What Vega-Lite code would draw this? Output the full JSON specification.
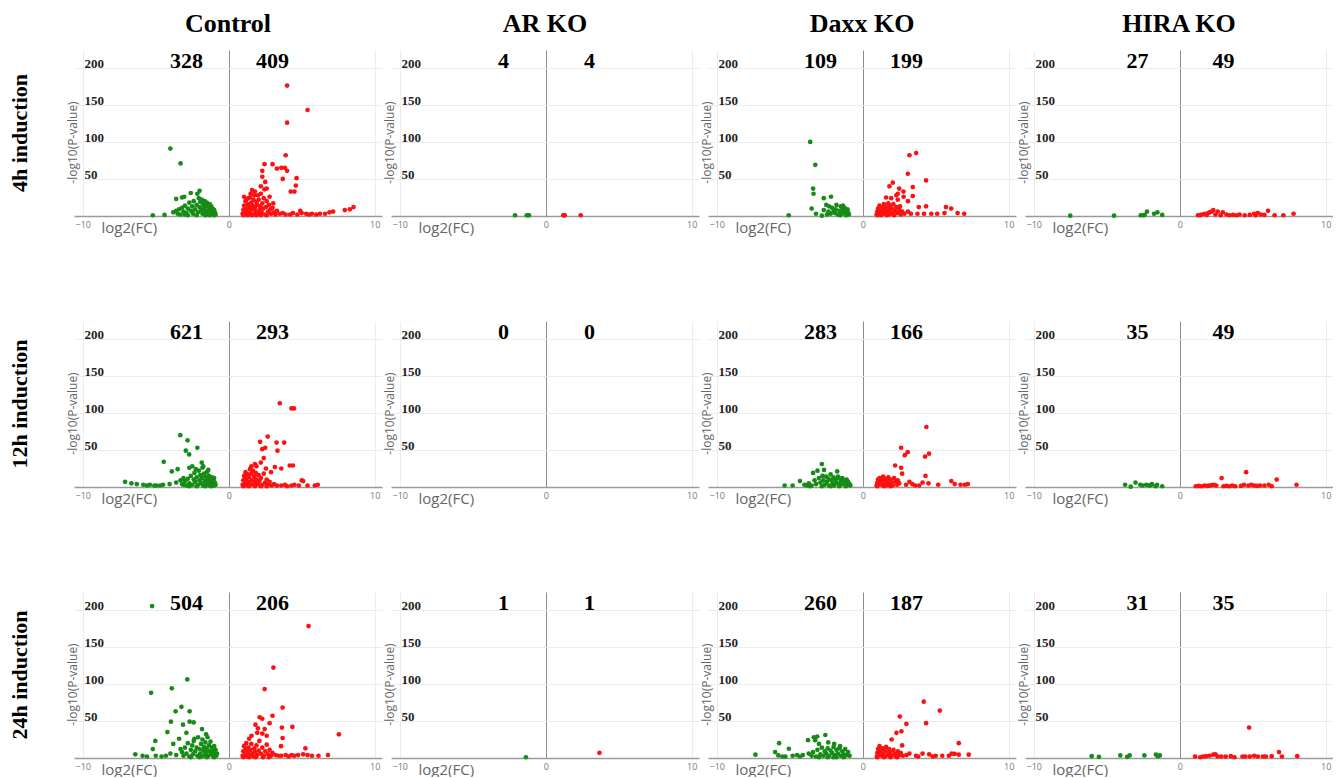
{
"$schema":"https://vega.github.io/schema/vega-lite/v6.json",
"padding":{"left":8,"top":11,"right":0,"bottom":0},
"background":"white",
"data":{"values":[
{"t":4,"g":"C","dn":328,"up":409},{"t":4,"g":"A","dn":4,"up":4},{"t":4,"g":"D","dn":109,"up":199},{"t":4,"g":"H","dn":27,"up":49},
{"t":12,"g":"C","dn":621,"up":293},{"t":12,"g":"A","dn":0,"up":0},{"t":12,"g":"D","dn":283,"up":166},{"t":12,"g":"H","dn":35,"up":49},
{"t":24,"g":"C","dn":504,"up":206},{"t":24,"g":"A","dn":1,"up":1},{"t":24,"g":"D","dn":260,"up":187},{"t":24,"g":"H","dn":31,"up":35},

{"t":4,"g":"C","x":-4.0,"y":91},{"t":4,"g":"C","x":-3.3,"y":71},{"t":4,"g":"C","x":-5.2,"y":1},{"t":4,"g":"C","x":-4.4,"y":1.5},{"t":4,"g":"C","x":-3.6,"y":23},{"t":4,"g":"C","x":-3.2,"y":25},{"t":4,"g":"C","x":-3.05,"y":26},{"t":4,"g":"C","x":-2.6,"y":31},{"t":4,"g":"C","x":-2.0,"y":34},{"t":4,"g":"C","x":-2.15,"y":30},
{"t":4,"g":"C","x":-3.8,"y":5},{"t":4,"g":"C","x":-3.6,"y":7},{"t":4,"g":"C","x":-3.5,"y":3},{"t":4,"g":"C","x":-3.4,"y":9},{"t":4,"g":"C","x":-3.3,"y":2},{"t":4,"g":"C","x":-3.2,"y":11},{"t":4,"g":"C","x":-3.1,"y":6},{"t":4,"g":"C","x":-3.0,"y":14},{"t":4,"g":"C","x":-2.9,"y":4},{"t":4,"g":"C","x":-2.8,"y":10},{"t":4,"g":"C","x":-2.7,"y":18},{"t":4,"g":"C","x":-2.6,"y":7},{"t":4,"g":"C","x":-2.5,"y":13},{"t":4,"g":"C","x":-2.45,"y":3},{"t":4,"g":"C","x":-2.4,"y":20},{"t":4,"g":"C","x":-2.3,"y":9},{"t":4,"g":"C","x":-2.2,"y":15},{"t":4,"g":"C","x":-2.1,"y":5},{"t":4,"g":"C","x":-2.05,"y":24},{"t":4,"g":"C","x":-2.0,"y":12},{"t":4,"g":"C","x":-1.95,"y":19},{"t":4,"g":"C","x":-1.9,"y":8},{"t":4,"g":"C","x":-1.85,"y":22},{"t":4,"g":"C","x":-1.8,"y":3},{"t":4,"g":"C","x":-1.75,"y":16},{"t":4,"g":"C","x":-1.7,"y":11},{"t":4,"g":"C","x":-1.65,"y":20},{"t":4,"g":"C","x":-1.6,"y":6},{"t":4,"g":"C","x":-1.55,"y":14},{"t":4,"g":"C","x":-1.5,"y":18},{"t":4,"g":"C","x":-1.45,"y":2},{"t":4,"g":"C","x":-1.4,"y":12},{"t":4,"g":"C","x":-1.35,"y":9},{"t":4,"g":"C","x":-1.3,"y":16},{"t":4,"g":"C","x":-1.25,"y":4},{"t":4,"g":"C","x":-1.2,"y":13},{"t":4,"g":"C","x":-1.15,"y":7},{"t":4,"g":"C","x":-1.1,"y":10},{"t":4,"g":"C","x":-1.05,"y":3},{"t":4,"g":"C","x":-1.0,"y":8},{"t":4,"g":"C","x":-0.95,"y":5},{"t":4,"g":"C","x":-0.9,"y":2},{"t":4,"g":"C","x":-1.6,"y":1},{"t":4,"g":"C","x":-2.2,"y":1},{"t":4,"g":"C","x":-2.8,"y":1},{"t":4,"g":"C","x":-1.3,"y":1},{"t":4,"g":"C","x":-1.0,"y":1},{"t":4,"g":"C","x":-1.8,"y":9},{"t":4,"g":"C","x":-1.5,"y":7},{"t":4,"g":"C","x":-1.2,"y":3},{"t":4,"g":"C","x":-2.5,"y":6},{"t":4,"g":"C","x":-3.0,"y":2},

{"t":4,"g":"C","x":4.0,"y":176},{"t":4,"g":"C","x":5.4,"y":143},{"t":4,"g":"C","x":4.0,"y":126},{"t":4,"g":"C","x":3.9,"y":82},{"t":4,"g":"C","x":2.45,"y":70},{"t":4,"g":"C","x":3.0,"y":70},{"t":4,"g":"C","x":2.3,"y":61},{"t":4,"g":"C","x":3.6,"y":65},{"t":4,"g":"C","x":3.85,"y":65},{"t":4,"g":"C","x":3.3,"y":64},{"t":4,"g":"C","x":4.0,"y":61},{"t":4,"g":"C","x":2.3,"y":53},{"t":4,"g":"C","x":3.7,"y":50},{"t":4,"g":"C","x":4.65,"y":51},{"t":4,"g":"C","x":4.6,"y":41},{"t":4,"g":"C","x":4.25,"y":33},{"t":4,"g":"C","x":4.5,"y":33},{"t":4,"g":"C","x":2.5,"y":46},{"t":4,"g":"C","x":1.8,"y":33},{"t":4,"g":"C","x":2.6,"y":37},{"t":4,"g":"C","x":2.0,"y":28},{"t":4,"g":"C","x":2.8,"y":26},{"t":4,"g":"C","x":1.35,"y":24},{"t":4,"g":"C","x":1.7,"y":22},{"t":4,"g":"C","x":3.05,"y":17},
{"t":4,"g":"C","x":0.95,"y":3},{"t":4,"g":"C","x":1.0,"y":8},{"t":4,"g":"C","x":1.05,"y":14},{"t":4,"g":"C","x":1.1,"y":5},{"t":4,"g":"C","x":1.15,"y":20},{"t":4,"g":"C","x":1.2,"y":10},{"t":4,"g":"C","x":1.25,"y":2},{"t":4,"g":"C","x":1.3,"y":16},{"t":4,"g":"C","x":1.35,"y":7},{"t":4,"g":"C","x":1.4,"y":12},{"t":4,"g":"C","x":1.45,"y":25},{"t":4,"g":"C","x":1.5,"y":4},{"t":4,"g":"C","x":1.55,"y":18},{"t":4,"g":"C","x":1.6,"y":9},{"t":4,"g":"C","x":1.65,"y":14},{"t":4,"g":"C","x":1.7,"y":2},{"t":4,"g":"C","x":1.75,"y":28},{"t":4,"g":"C","x":1.8,"y":11},{"t":4,"g":"C","x":1.85,"y":6},{"t":4,"g":"C","x":1.9,"y":19},{"t":4,"g":"C","x":1.95,"y":15},{"t":4,"g":"C","x":2.0,"y":3},{"t":4,"g":"C","x":2.05,"y":22},{"t":4,"g":"C","x":2.1,"y":8},{"t":4,"g":"C","x":2.15,"y":13},{"t":4,"g":"C","x":2.2,"y":30},{"t":4,"g":"C","x":2.25,"y":5},{"t":4,"g":"C","x":2.3,"y":17},{"t":4,"g":"C","x":2.35,"y":10},{"t":4,"g":"C","x":2.4,"y":24},{"t":4,"g":"C","x":2.5,"y":2},{"t":4,"g":"C","x":2.55,"y":12},{"t":4,"g":"C","x":2.6,"y":20},{"t":4,"g":"C","x":2.7,"y":6},{"t":4,"g":"C","x":2.75,"y":15},{"t":4,"g":"C","x":2.85,"y":9},{"t":4,"g":"C","x":2.9,"y":3},{"t":4,"g":"C","x":3.0,"y":11},{"t":4,"g":"C","x":3.1,"y":5},{"t":4,"g":"C","x":3.2,"y":2},{"t":4,"g":"C","x":3.3,"y":7},{"t":4,"g":"C","x":3.5,"y":3},{"t":4,"g":"C","x":3.7,"y":4},{"t":4,"g":"C","x":3.9,"y":2},{"t":4,"g":"C","x":1.0,"y":1},{"t":4,"g":"C","x":1.3,"y":1},{"t":4,"g":"C","x":1.6,"y":1},{"t":4,"g":"C","x":1.9,"y":1},{"t":4,"g":"C","x":2.2,"y":1},{"t":4,"g":"C","x":2.6,"y":1},{"t":4,"g":"C","x":1.2,"y":22},{"t":4,"g":"C","x":1.5,"y":30},{"t":4,"g":"C","x":1.05,"y":26},{"t":4,"g":"C","x":2.45,"y":36},{"t":4,"g":"C","x":2.2,"y":40},{"t":4,"g":"C","x":1.6,"y":35},
{"t":4,"g":"C","x":4.4,"y":4},{"t":4,"g":"C","x":4.9,"y":7},{"t":4,"g":"C","x":5.3,"y":3},{"t":4,"g":"C","x":5.7,"y":3},{"t":4,"g":"C","x":6.25,"y":3},{"t":4,"g":"C","x":6.9,"y":5},{"t":4,"g":"C","x":7.15,"y":6},{"t":4,"g":"C","x":7.95,"y":8},{"t":4,"g":"C","x":8.3,"y":9},{"t":4,"g":"C","x":8.55,"y":12},{"t":4,"g":"C","x":4.2,"y":2},{"t":4,"g":"C","x":4.7,"y":2},{"t":4,"g":"C","x":5.0,"y":4},{"t":4,"g":"C","x":5.5,"y":2},{"t":4,"g":"C","x":6.0,"y":2},{"t":4,"g":"C","x":6.6,"y":3},

{"t":4,"g":"A","x":-2.1,"y":1},{"t":4,"g":"A","x":-1.3,"y":1},{"t":4,"g":"A","x":-1.15,"y":1},{"t":4,"g":"A","x":-1.2,"y":1},{"t":4,"g":"A","x":1.2,"y":1},{"t":4,"g":"A","x":1.3,"y":1},{"t":4,"g":"A","x":2.4,"y":1},{"t":4,"g":"A","x":1.25,"y":1},

{"t":4,"g":"D","x":-3.6,"y":100},{"t":4,"g":"D","x":-3.25,"y":69},{"t":4,"g":"D","x":-3.4,"y":37},{"t":4,"g":"D","x":-3.37,"y":30},{"t":4,"g":"D","x":-5.07,"y":1},{"t":4,"g":"D","x":-3.5,"y":10},{"t":4,"g":"D","x":-3.2,"y":3},{"t":4,"g":"D","x":-2.67,"y":24},{"t":4,"g":"D","x":-2.17,"y":26},{"t":4,"g":"D","x":-2.5,"y":15},{"t":4,"g":"D","x":-2.67,"y":8},{"t":4,"g":"D","x":-2.8,"y":0.5},{"t":4,"g":"D","x":-2.3,"y":13},{"t":4,"g":"D","x":-2.1,"y":11},{"t":4,"g":"D","x":-1.8,"y":15},{"t":4,"g":"D","x":-1.5,"y":13},{"t":4,"g":"D","x":-1.4,"y":9},{"t":4,"g":"D","x":-1.3,"y":6},{"t":4,"g":"D","x":-1.2,"y":4},{"t":4,"g":"D","x":-1.6,"y":7},{"t":4,"g":"D","x":-1.9,"y":4},{"t":4,"g":"D","x":-2.2,"y":3},{"t":4,"g":"D","x":-2.45,"y":2},{"t":4,"g":"D","x":-1.7,"y":2},{"t":4,"g":"D","x":-1.1,"y":2},{"t":4,"g":"D","x":-1.0,"y":5},{"t":4,"g":"D","x":-1.05,"y":9},{"t":4,"g":"D","x":-1.25,"y":11},{"t":4,"g":"D","x":-1.45,"y":3},{"t":4,"g":"D","x":-1.85,"y":9},{"t":4,"g":"D","x":-2.0,"y":6},{"t":4,"g":"D","x":-1.55,"y":1},{"t":4,"g":"D","x":-1.15,"y":1},{"t":4,"g":"D","x":-2.35,"y":6},{"t":4,"g":"D","x":-1.35,"y":14},{"t":4,"g":"D","x":-0.95,"y":2},
{"t":4,"g":"D","x":3.2,"y":82},{"t":4,"g":"D","x":3.66,"y":85},{"t":4,"g":"D","x":3.09,"y":57},{"t":4,"g":"D","x":4.34,"y":48},{"t":4,"g":"D","x":2.06,"y":45},{"t":4,"g":"D","x":1.83,"y":40},{"t":4,"g":"D","x":3.43,"y":39},{"t":4,"g":"D","x":2.79,"y":33},{"t":4,"g":"D","x":2.4,"y":30},{"t":4,"g":"D","x":2.5,"y":37},{"t":4,"g":"D","x":2.3,"y":28},{"t":4,"g":"D","x":2.4,"y":22},{"t":4,"g":"D","x":1.95,"y":24},{"t":4,"g":"D","x":1.6,"y":25},{"t":4,"g":"D","x":1.75,"y":17},{"t":4,"g":"D","x":2.8,"y":26},{"t":4,"g":"D","x":3.1,"y":20},{"t":4,"g":"D","x":3.43,"y":27},{"t":4,"g":"D","x":4.34,"y":13},{"t":4,"g":"D","x":3.84,"y":12},{"t":4,"g":"D","x":5.7,"y":12},{"t":4,"g":"D","x":6.06,"y":10},{"t":4,"g":"D","x":6.5,"y":4},{"t":4,"g":"D","x":6.95,"y":3},{"t":4,"g":"D","x":5.6,"y":4},{"t":4,"g":"D","x":5.1,"y":3},{"t":4,"g":"D","x":4.7,"y":3},{"t":4,"g":"D","x":4.2,"y":3},{"t":4,"g":"D","x":3.75,"y":3},{"t":4,"g":"D","x":3.3,"y":3},{"t":4,"g":"D","x":3.1,"y":6},
{"t":4,"g":"D","x":0.95,"y":2},{"t":4,"g":"D","x":1.0,"y":6},{"t":4,"g":"D","x":1.05,"y":10},{"t":4,"g":"D","x":1.1,"y":3},{"t":4,"g":"D","x":1.15,"y":14},{"t":4,"g":"D","x":1.2,"y":7},{"t":4,"g":"D","x":1.3,"y":2},{"t":4,"g":"D","x":1.35,"y":11},{"t":4,"g":"D","x":1.4,"y":5},{"t":4,"g":"D","x":1.45,"y":16},{"t":4,"g":"D","x":1.5,"y":8},{"t":4,"g":"D","x":1.55,"y":3},{"t":4,"g":"D","x":1.6,"y":12},{"t":4,"g":"D","x":1.7,"y":6},{"t":4,"g":"D","x":1.75,"y":9},{"t":4,"g":"D","x":1.8,"y":2},{"t":4,"g":"D","x":1.85,"y":14},{"t":4,"g":"D","x":1.9,"y":5},{"t":4,"g":"D","x":2.0,"y":10},{"t":4,"g":"D","x":2.05,"y":3},{"t":4,"g":"D","x":2.1,"y":16},{"t":4,"g":"D","x":2.2,"y":7},{"t":4,"g":"D","x":2.3,"y":12},{"t":4,"g":"D","x":2.4,"y":4},{"t":4,"g":"D","x":2.5,"y":9},{"t":4,"g":"D","x":2.6,"y":2},{"t":4,"g":"D","x":2.7,"y":6},{"t":4,"g":"D","x":2.85,"y":3},{"t":4,"g":"D","x":1.0,"y":1},{"t":4,"g":"D","x":1.25,"y":1},{"t":4,"g":"D","x":1.65,"y":1},{"t":4,"g":"D","x":2.15,"y":1},{"t":4,"g":"D","x":2.55,"y":13},

{"t":4,"g":"H","x":-7.5,"y":0.5},{"t":4,"g":"H","x":-4.5,"y":0.5},{"t":4,"g":"H","x":-2.67,"y":1},{"t":4,"g":"H","x":-2.4,"y":1.5},{"t":4,"g":"H","x":-2.24,"y":6},{"t":4,"g":"H","x":-1.76,"y":3},{"t":4,"g":"H","x":-1.53,"y":5},{"t":4,"g":"H","x":-1.2,"y":1.5},{"t":4,"g":"H","x":-2.5,"y":1},
{"t":4,"g":"H","x":1.25,"y":1},{"t":4,"g":"H","x":1.5,"y":2},{"t":4,"g":"H","x":1.7,"y":3},{"t":4,"g":"H","x":1.95,"y":4},{"t":4,"g":"H","x":2.05,"y":5},{"t":4,"g":"H","x":2.2,"y":6},{"t":4,"g":"H","x":2.3,"y":8},{"t":4,"g":"H","x":2.6,"y":6},{"t":4,"g":"H","x":2.95,"y":5},{"t":4,"g":"H","x":3.2,"y":2},{"t":4,"g":"H","x":3.4,"y":1},{"t":4,"g":"H","x":3.65,"y":1.5},{"t":4,"g":"H","x":4.1,"y":2},{"t":4,"g":"H","x":4.45,"y":1},{"t":4,"g":"H","x":5.1,"y":3},{"t":4,"g":"H","x":5.35,"y":4},{"t":4,"g":"H","x":5.55,"y":2},{"t":4,"g":"H","x":5.8,"y":1.5},{"t":4,"g":"H","x":6.05,"y":7},{"t":4,"g":"H","x":6.5,"y":1},{"t":4,"g":"H","x":7.1,"y":1},{"t":4,"g":"H","x":7.8,"y":3},{"t":4,"g":"H","x":1.4,"y":1},{"t":4,"g":"H","x":1.85,"y":1.5},{"t":4,"g":"H","x":2.45,"y":2},{"t":4,"g":"H","x":2.8,"y":1},{"t":4,"g":"H","x":4.8,"y":1.5},{"t":4,"g":"H","x":5.2,"y":1},{"t":4,"g":"H","x":3.9,"y":1},

{"t":12,"g":"C","x":-3.32,"y":70},{"t":12,"g":"C","x":-2.82,"y":63},{"t":12,"g":"C","x":-2.15,"y":53},{"t":12,"g":"C","x":-2.94,"y":49},{"t":12,"g":"C","x":-2.71,"y":44},{"t":12,"g":"C","x":-4.45,"y":34},{"t":12,"g":"C","x":-2.5,"y":28},{"t":12,"g":"C","x":-1.85,"y":33},{"t":12,"g":"C","x":-3.9,"y":21},{"t":12,"g":"C","x":-3.5,"y":24},{"t":12,"g":"C","x":-2.7,"y":26},{"t":12,"g":"C","x":-7.1,"y":7},{"t":12,"g":"C","x":-6.67,"y":5},{"t":12,"g":"C","x":-6.3,"y":4},{"t":12,"g":"C","x":-5.85,"y":3},{"t":12,"g":"C","x":-5.4,"y":3},{"t":12,"g":"C","x":-4.95,"y":2},{"t":12,"g":"C","x":-4.5,"y":3},{"t":12,"g":"C","x":-4.05,"y":4},{"t":12,"g":"C","x":-3.6,"y":6},{"t":12,"g":"C","x":-3.3,"y":9},{"t":12,"g":"C","x":-3.1,"y":12},{"t":12,"g":"C","x":-5.6,"y":2},{"t":12,"g":"C","x":-5.1,"y":2},{"t":12,"g":"C","x":-4.7,"y":2},
{"t":12,"g":"C","x":-3.2,"y":4},{"t":12,"g":"C","x":-3.0,"y":8},{"t":12,"g":"C","x":-2.9,"y":2},{"t":12,"g":"C","x":-2.8,"y":11},{"t":12,"g":"C","x":-2.7,"y":5},{"t":12,"g":"C","x":-2.6,"y":15},{"t":12,"g":"C","x":-2.5,"y":3},{"t":12,"g":"C","x":-2.4,"y":10},{"t":12,"g":"C","x":-2.35,"y":19},{"t":12,"g":"C","x":-2.3,"y":7},{"t":12,"g":"C","x":-2.2,"y":13},{"t":12,"g":"C","x":-2.1,"y":3},{"t":12,"g":"C","x":-2.05,"y":22},{"t":12,"g":"C","x":-2.0,"y":9},{"t":12,"g":"C","x":-1.95,"y":16},{"t":12,"g":"C","x":-1.9,"y":5},{"t":12,"g":"C","x":-1.85,"y":12},{"t":12,"g":"C","x":-1.8,"y":26},{"t":12,"g":"C","x":-1.75,"y":2},{"t":12,"g":"C","x":-1.7,"y":18},{"t":12,"g":"C","x":-1.65,"y":8},{"t":12,"g":"C","x":-1.6,"y":14},{"t":12,"g":"C","x":-1.55,"y":4},{"t":12,"g":"C","x":-1.5,"y":20},{"t":12,"g":"C","x":-1.45,"y":10},{"t":12,"g":"C","x":-1.4,"y":6},{"t":12,"g":"C","x":-1.35,"y":15},{"t":12,"g":"C","x":-1.3,"y":2},{"t":12,"g":"C","x":-1.25,"y":11},{"t":12,"g":"C","x":-1.2,"y":7},{"t":12,"g":"C","x":-1.15,"y":13},{"t":12,"g":"C","x":-1.1,"y":4},{"t":12,"g":"C","x":-1.05,"y":9},{"t":12,"g":"C","x":-1.0,"y":2},{"t":12,"g":"C","x":-0.95,"y":6},{"t":12,"g":"C","x":-0.9,"y":3},{"t":12,"g":"C","x":-1.6,"y":1},{"t":12,"g":"C","x":-2.2,"y":1},{"t":12,"g":"C","x":-1.2,"y":1},{"t":12,"g":"C","x":-2.7,"y":1},{"t":12,"g":"C","x":-1.75,"y":28},{"t":12,"g":"C","x":-2.25,"y":24},{"t":12,"g":"C","x":-1.4,"y":23},{"t":12,"g":"C","x":-1.0,"y":12},{"t":12,"g":"C","x":-3.1,"y":3},
{"t":12,"g":"C","x":3.5,"y":113},{"t":12,"g":"C","x":4.3,"y":106},{"t":12,"g":"C","x":4.47,"y":106},{"t":12,"g":"C","x":2.67,"y":68},{"t":12,"g":"C","x":2.15,"y":61},{"t":12,"g":"C","x":3.28,"y":60},{"t":12,"g":"C","x":3.8,"y":60},{"t":12,"g":"C","x":2.3,"y":51},{"t":12,"g":"C","x":2.5,"y":53},{"t":12,"g":"C","x":3.34,"y":49},{"t":12,"g":"C","x":2.4,"y":39},{"t":12,"g":"C","x":1.8,"y":31},{"t":12,"g":"C","x":1.9,"y":28},{"t":12,"g":"C","x":3.16,"y":27},{"t":12,"g":"C","x":3.6,"y":25},{"t":12,"g":"C","x":4.18,"y":29},{"t":12,"g":"C","x":4.4,"y":29},{"t":12,"g":"C","x":2.9,"y":20},
{"t":12,"g":"C","x":0.95,"y":3},{"t":12,"g":"C","x":1.0,"y":9},{"t":12,"g":"C","x":1.05,"y":15},{"t":12,"g":"C","x":1.1,"y":5},{"t":12,"g":"C","x":1.15,"y":20},{"t":12,"g":"C","x":1.2,"y":11},{"t":12,"g":"C","x":1.25,"y":2},{"t":12,"g":"C","x":1.3,"y":17},{"t":12,"g":"C","x":1.35,"y":7},{"t":12,"g":"C","x":1.4,"y":13},{"t":12,"g":"C","x":1.45,"y":24},{"t":12,"g":"C","x":1.5,"y":4},{"t":12,"g":"C","x":1.55,"y":18},{"t":12,"g":"C","x":1.6,"y":9},{"t":12,"g":"C","x":1.65,"y":22},{"t":12,"g":"C","x":1.7,"y":3},{"t":12,"g":"C","x":1.75,"y":14},{"t":12,"g":"C","x":1.8,"y":7},{"t":12,"g":"C","x":1.85,"y":19},{"t":12,"g":"C","x":1.9,"y":10},{"t":12,"g":"C","x":2.0,"y":4},{"t":12,"g":"C","x":2.05,"y":16},{"t":12,"g":"C","x":2.1,"y":8},{"t":12,"g":"C","x":2.2,"y":12},{"t":12,"g":"C","x":2.3,"y":3},{"t":12,"g":"C","x":2.4,"y":18},{"t":12,"g":"C","x":2.5,"y":6},{"t":12,"g":"C","x":2.6,"y":10},{"t":12,"g":"C","x":2.7,"y":3},{"t":12,"g":"C","x":2.8,"y":7},{"t":12,"g":"C","x":2.95,"y":2},{"t":12,"g":"C","x":3.1,"y":4},{"t":12,"g":"C","x":3.3,"y":2},{"t":12,"g":"C","x":1.0,"y":1},{"t":12,"g":"C","x":1.4,"y":1},{"t":12,"g":"C","x":1.8,"y":1},{"t":12,"g":"C","x":2.2,"y":1},{"t":12,"g":"C","x":2.6,"y":1},{"t":12,"g":"C","x":1.55,"y":28},{"t":12,"g":"C","x":2.2,"y":33},{"t":12,"g":"C","x":2.55,"y":25},
{"t":12,"g":"C","x":3.85,"y":3},{"t":12,"g":"C","x":4.3,"y":2},{"t":12,"g":"C","x":4.5,"y":3},{"t":12,"g":"C","x":5.0,"y":9},{"t":12,"g":"C","x":5.1,"y":8},{"t":12,"g":"C","x":5.4,"y":2},{"t":12,"g":"C","x":5.9,"y":2},{"t":12,"g":"C","x":6.1,"y":3},{"t":12,"g":"C","x":3.6,"y":2},{"t":12,"g":"C","x":4.0,"y":1},{"t":12,"g":"C","x":4.8,"y":2},

{"t":12,"g":"D","x":-2.8,"y":31},{"t":12,"g":"D","x":-3.4,"y":19},{"t":12,"g":"D","x":-3.1,"y":22},{"t":12,"g":"D","x":-2.65,"y":23},{"t":12,"g":"D","x":-1.75,"y":21},{"t":12,"g":"D","x":-2.76,"y":15},{"t":12,"g":"D","x":-2.2,"y":17},{"t":12,"g":"D","x":-5.35,"y":2},{"t":12,"g":"D","x":-4.8,"y":2},{"t":12,"g":"D","x":-4.3,"y":8},{"t":12,"g":"D","x":-4.0,"y":3},{"t":12,"g":"D","x":-3.7,"y":5},{"t":12,"g":"D","x":-3.5,"y":2},
{"t":12,"g":"D","x":-3.3,"y":9},{"t":12,"g":"D","x":-3.2,"y":4},{"t":12,"g":"D","x":-3.0,"y":12},{"t":12,"g":"D","x":-2.9,"y":6},{"t":12,"g":"D","x":-2.7,"y":9},{"t":12,"g":"D","x":-2.6,"y":3},{"t":12,"g":"D","x":-2.5,"y":14},{"t":12,"g":"D","x":-2.45,"y":7},{"t":12,"g":"D","x":-2.35,"y":11},{"t":12,"g":"D","x":-2.3,"y":2},{"t":12,"g":"D","x":-2.15,"y":9},{"t":12,"g":"D","x":-2.05,"y":5},{"t":12,"g":"D","x":-2.0,"y":13},{"t":12,"g":"D","x":-1.95,"y":2},{"t":12,"g":"D","x":-1.85,"y":10},{"t":12,"g":"D","x":-1.8,"y":6},{"t":12,"g":"D","x":-1.7,"y":14},{"t":12,"g":"D","x":-1.6,"y":3},{"t":12,"g":"D","x":-1.55,"y":11},{"t":12,"g":"D","x":-1.5,"y":7},{"t":12,"g":"D","x":-1.4,"y":12},{"t":12,"g":"D","x":-1.35,"y":4},{"t":12,"g":"D","x":-1.3,"y":9},{"t":12,"g":"D","x":-1.2,"y":6},{"t":12,"g":"D","x":-1.1,"y":10},{"t":12,"g":"D","x":-1.05,"y":3},{"t":12,"g":"D","x":-1.0,"y":7},{"t":12,"g":"D","x":-0.9,"y":4},{"t":12,"g":"D","x":-0.85,"y":2},{"t":12,"g":"D","x":-3.6,"y":1},{"t":12,"g":"D","x":-2.8,"y":1},{"t":12,"g":"D","x":-2.2,"y":1},{"t":12,"g":"D","x":-1.6,"y":1},{"t":12,"g":"D","x":-1.15,"y":1},{"t":12,"g":"D","x":-3.85,"y":2},
{"t":12,"g":"D","x":4.36,"y":81},{"t":12,"g":"D","x":2.63,"y":53},{"t":12,"g":"D","x":3.08,"y":47},{"t":12,"g":"D","x":2.88,"y":43},{"t":12,"g":"D","x":4.54,"y":45},{"t":12,"g":"D","x":4.27,"y":41},{"t":12,"g":"D","x":2.22,"y":29},{"t":12,"g":"D","x":2.63,"y":26},{"t":12,"g":"D","x":2.7,"y":18},{"t":12,"g":"D","x":4.3,"y":15},{"t":12,"g":"D","x":2.97,"y":3},{"t":12,"g":"D","x":3.4,"y":4},{"t":12,"g":"D","x":3.87,"y":2},{"t":12,"g":"D","x":4.1,"y":6},{"t":12,"g":"D","x":4.5,"y":5},{"t":12,"g":"D","x":5.17,"y":3},{"t":12,"g":"D","x":6.07,"y":8},{"t":12,"g":"D","x":6.3,"y":4},{"t":12,"g":"D","x":6.7,"y":3},{"t":12,"g":"D","x":7.0,"y":3},{"t":12,"g":"D","x":7.2,"y":4},{"t":12,"g":"D","x":3.2,"y":7},{"t":12,"g":"D","x":3.6,"y":2},{"t":12,"g":"D","x":2.5,"y":5},
{"t":12,"g":"D","x":0.95,"y":2},{"t":12,"g":"D","x":1.0,"y":6},{"t":12,"g":"D","x":1.05,"y":10},{"t":12,"g":"D","x":1.1,"y":4},{"t":12,"g":"D","x":1.15,"y":12},{"t":12,"g":"D","x":1.2,"y":7},{"t":12,"g":"D","x":1.3,"y":3},{"t":12,"g":"D","x":1.35,"y":9},{"t":12,"g":"D","x":1.4,"y":14},{"t":12,"g":"D","x":1.5,"y":5},{"t":12,"g":"D","x":1.55,"y":11},{"t":12,"g":"D","x":1.6,"y":2},{"t":12,"g":"D","x":1.7,"y":8},{"t":12,"g":"D","x":1.75,"y":13},{"t":12,"g":"D","x":1.8,"y":4},{"t":12,"g":"D","x":1.9,"y":10},{"t":12,"g":"D","x":2.0,"y":6},{"t":12,"g":"D","x":2.05,"y":2},{"t":12,"g":"D","x":2.15,"y":12},{"t":12,"g":"D","x":2.25,"y":7},{"t":12,"g":"D","x":2.35,"y":3},{"t":12,"g":"D","x":1.0,"y":1},{"t":12,"g":"D","x":1.45,"y":1},{"t":12,"g":"D","x":1.9,"y":1},{"t":12,"g":"D","x":2.4,"y":9},

{"t":12,"g":"H","x":-3.74,"y":3},{"t":12,"g":"H","x":-3.36,"y":0.5},{"t":12,"g":"H","x":-3.03,"y":6},{"t":12,"g":"H","x":-2.55,"y":2},{"t":12,"g":"H","x":-2.3,"y":3},{"t":12,"g":"H","x":-2.1,"y":2},{"t":12,"g":"H","x":-1.9,"y":4},{"t":12,"g":"H","x":-1.65,"y":1},{"t":12,"g":"H","x":-1.55,"y":3},{"t":12,"g":"H","x":-1.2,"y":1},{"t":12,"g":"H","x":-2.0,"y":2.5},{"t":12,"g":"H","x":-2.7,"y":3},
{"t":12,"g":"H","x":1.1,"y":1},{"t":12,"g":"H","x":1.3,"y":1.5},{"t":12,"g":"H","x":1.5,"y":1},{"t":12,"g":"H","x":1.7,"y":2},{"t":12,"g":"H","x":1.9,"y":1.5},{"t":12,"g":"H","x":2.05,"y":2},{"t":12,"g":"H","x":2.2,"y":2.5},{"t":12,"g":"H","x":2.35,"y":3},{"t":12,"g":"H","x":2.5,"y":2},{"t":12,"g":"H","x":2.87,"y":12},{"t":12,"g":"H","x":3.0,"y":1},{"t":12,"g":"H","x":3.2,"y":1.5},{"t":12,"g":"H","x":3.4,"y":1},{"t":12,"g":"H","x":3.6,"y":2},{"t":12,"g":"H","x":4.2,"y":1.5},{"t":12,"g":"H","x":4.4,"y":3},{"t":12,"g":"H","x":4.55,"y":20},{"t":12,"g":"H","x":4.7,"y":2},{"t":12,"g":"H","x":4.9,"y":3},{"t":12,"g":"H","x":5.1,"y":2},{"t":12,"g":"H","x":5.3,"y":1.5},{"t":12,"g":"H","x":5.5,"y":2},{"t":12,"g":"H","x":5.8,"y":2},{"t":12,"g":"H","x":6.1,"y":3},{"t":12,"g":"H","x":6.3,"y":1},{"t":12,"g":"H","x":6.64,"y":10},{"t":12,"g":"H","x":8.0,"y":3},{"t":12,"g":"H","x":3.8,"y":1},

{"t":24,"g":"C","x":-5.25,"y":205},{"t":24,"g":"C","x":-2.84,"y":106},{"t":24,"g":"C","x":-5.32,"y":88},{"t":24,"g":"C","x":-3.9,"y":94},{"t":24,"g":"C","x":-3.24,"y":69},{"t":24,"g":"C","x":-3.64,"y":63},{"t":24,"g":"C","x":-2.68,"y":63},{"t":24,"g":"C","x":-3.96,"y":49},{"t":24,"g":"C","x":-2.68,"y":49},{"t":24,"g":"C","x":-2.4,"y":48},{"t":24,"g":"C","x":-3.13,"y":45},{"t":24,"g":"C","x":-4.2,"y":35},{"t":24,"g":"C","x":-1.83,"y":39},{"t":24,"g":"C","x":-2.9,"y":34},{"t":24,"g":"C","x":-3.4,"y":26},{"t":24,"g":"C","x":-2.35,"y":26},{"t":24,"g":"C","x":-5.03,"y":23},{"t":24,"g":"C","x":-3.8,"y":19},{"t":24,"g":"C","x":-6.4,"y":5},{"t":24,"g":"C","x":-5.9,"y":3},{"t":24,"g":"C","x":-5.2,"y":12},{"t":24,"g":"C","x":-5.6,"y":2},{"t":24,"g":"C","x":-5.0,"y":3},{"t":24,"g":"C","x":-4.6,"y":2},{"t":24,"g":"C","x":-4.3,"y":3},{"t":24,"g":"C","x":-4.0,"y":6},{"t":24,"g":"C","x":-3.6,"y":4},
{"t":24,"g":"C","x":-3.2,"y":8},{"t":24,"g":"C","x":-3.1,"y":3},{"t":24,"g":"C","x":-3.0,"y":14},{"t":24,"g":"C","x":-2.9,"y":6},{"t":24,"g":"C","x":-2.8,"y":20},{"t":24,"g":"C","x":-2.7,"y":2},{"t":24,"g":"C","x":-2.6,"y":11},{"t":24,"g":"C","x":-2.5,"y":17},{"t":24,"g":"C","x":-2.45,"y":5},{"t":24,"g":"C","x":-2.4,"y":23},{"t":24,"g":"C","x":-2.3,"y":9},{"t":24,"g":"C","x":-2.2,"y":14},{"t":24,"g":"C","x":-2.15,"y":3},{"t":24,"g":"C","x":-2.1,"y":28},{"t":24,"g":"C","x":-2.0,"y":12},{"t":24,"g":"C","x":-1.95,"y":6},{"t":24,"g":"C","x":-1.9,"y":19},{"t":24,"g":"C","x":-1.85,"y":2},{"t":24,"g":"C","x":-1.8,"y":25},{"t":24,"g":"C","x":-1.75,"y":10},{"t":24,"g":"C","x":-1.7,"y":15},{"t":24,"g":"C","x":-1.65,"y":4},{"t":24,"g":"C","x":-1.6,"y":21},{"t":24,"g":"C","x":-1.55,"y":8},{"t":24,"g":"C","x":-1.5,"y":13},{"t":24,"g":"C","x":-1.45,"y":28},{"t":24,"g":"C","x":-1.4,"y":3},{"t":24,"g":"C","x":-1.35,"y":17},{"t":24,"g":"C","x":-1.3,"y":9},{"t":24,"g":"C","x":-1.25,"y":22},{"t":24,"g":"C","x":-1.2,"y":5},{"t":24,"g":"C","x":-1.15,"y":14},{"t":24,"g":"C","x":-1.1,"y":10},{"t":24,"g":"C","x":-1.05,"y":2},{"t":24,"g":"C","x":-1.0,"y":16},{"t":24,"g":"C","x":-0.95,"y":7},{"t":24,"g":"C","x":-0.9,"y":11},{"t":24,"g":"C","x":-0.85,"y":3},{"t":24,"g":"C","x":-0.8,"y":6},{"t":24,"g":"C","x":-2.6,"y":1},{"t":24,"g":"C","x":-2.0,"y":1},{"t":24,"g":"C","x":-1.5,"y":1},{"t":24,"g":"C","x":-1.0,"y":1},{"t":24,"g":"C","x":-3.3,"y":12},{"t":24,"g":"C","x":-1.55,"y":32},
{"t":24,"g":"C","x":5.47,"y":178},{"t":24,"g":"C","x":3.06,"y":122},{"t":24,"g":"C","x":2.46,"y":93},{"t":24,"g":"C","x":3.69,"y":68},{"t":24,"g":"C","x":3.0,"y":57},{"t":24,"g":"C","x":2.12,"y":55},{"t":24,"g":"C","x":2.3,"y":53},{"t":24,"g":"C","x":1.83,"y":45},{"t":24,"g":"C","x":2.8,"y":47},{"t":24,"g":"C","x":2.0,"y":40},{"t":24,"g":"C","x":2.46,"y":39},{"t":24,"g":"C","x":3.64,"y":41},{"t":24,"g":"C","x":4.36,"y":42},{"t":24,"g":"C","x":7.55,"y":32},{"t":24,"g":"C","x":3.69,"y":27},{"t":24,"g":"C","x":1.56,"y":30},{"t":24,"g":"C","x":3.58,"y":16},{"t":24,"g":"C","x":5.25,"y":13},{"t":24,"g":"C","x":1.95,"y":34},{"t":24,"g":"C","x":2.3,"y":33},{"t":24,"g":"C","x":2.6,"y":30},{"t":24,"g":"C","x":1.4,"y":26},
{"t":24,"g":"C","x":0.95,"y":3},{"t":24,"g":"C","x":1.0,"y":9},{"t":24,"g":"C","x":1.05,"y":16},{"t":24,"g":"C","x":1.1,"y":5},{"t":24,"g":"C","x":1.15,"y":12},{"t":24,"g":"C","x":1.2,"y":20},{"t":24,"g":"C","x":1.25,"y":2},{"t":24,"g":"C","x":1.3,"y":8},{"t":24,"g":"C","x":1.35,"y":14},{"t":24,"g":"C","x":1.45,"y":4},{"t":24,"g":"C","x":1.5,"y":11},{"t":24,"g":"C","x":1.55,"y":19},{"t":24,"g":"C","x":1.6,"y":6},{"t":24,"g":"C","x":1.7,"y":2},{"t":24,"g":"C","x":1.75,"y":13},{"t":24,"g":"C","x":1.8,"y":8},{"t":24,"g":"C","x":1.9,"y":17},{"t":24,"g":"C","x":1.95,"y":4},{"t":24,"g":"C","x":2.05,"y":10},{"t":24,"g":"C","x":2.1,"y":23},{"t":24,"g":"C","x":2.2,"y":6},{"t":24,"g":"C","x":2.3,"y":14},{"t":24,"g":"C","x":2.4,"y":3},{"t":24,"g":"C","x":2.5,"y":9},{"t":24,"g":"C","x":2.6,"y":18},{"t":24,"g":"C","x":2.7,"y":5},{"t":24,"g":"C","x":2.8,"y":11},{"t":24,"g":"C","x":2.9,"y":3},{"t":24,"g":"C","x":3.0,"y":7},{"t":24,"g":"C","x":3.2,"y":4},{"t":24,"g":"C","x":3.4,"y":3},{"t":24,"g":"C","x":1.0,"y":1},{"t":24,"g":"C","x":1.4,"y":1},{"t":24,"g":"C","x":1.85,"y":1},{"t":24,"g":"C","x":2.35,"y":1},{"t":24,"g":"C","x":2.75,"y":1},
{"t":24,"g":"C","x":3.9,"y":4},{"t":24,"g":"C","x":4.3,"y":4},{"t":24,"g":"C","x":4.75,"y":4},{"t":24,"g":"C","x":5.4,"y":4},{"t":24,"g":"C","x":5.7,"y":3},{"t":24,"g":"C","x":6.15,"y":3},{"t":24,"g":"C","x":6.8,"y":4},{"t":24,"g":"C","x":5.1,"y":5},{"t":24,"g":"C","x":3.6,"y":3},{"t":24,"g":"C","x":4.1,"y":2},{"t":24,"g":"C","x":4.5,"y":3},

{"t":24,"g":"A","x":-1.36,"y":1},{"t":24,"g":"A","x":3.68,"y":7},

{"t":24,"g":"D","x":-7.35,"y":4.5},{"t":24,"g":"D","x":-5.73,"y":20},{"t":24,"g":"D","x":-6.0,"y":8},{"t":24,"g":"D","x":-5.06,"y":12.5},{"t":24,"g":"D","x":-5.78,"y":3.5},{"t":24,"g":"D","x":-3.75,"y":24},{"t":24,"g":"D","x":-3.35,"y":28},{"t":24,"g":"D","x":-3.12,"y":29},{"t":24,"g":"D","x":-2.56,"y":31},{"t":24,"g":"D","x":-3.26,"y":24},{"t":24,"g":"D","x":-3.0,"y":19},{"t":24,"g":"D","x":-2.36,"y":21},{"t":24,"g":"D","x":-1.96,"y":19},{"t":24,"g":"D","x":-1.55,"y":16},{"t":24,"g":"D","x":-4.5,"y":4},{"t":24,"g":"D","x":-4.8,"y":3},{"t":24,"g":"D","x":-5.3,"y":2},{"t":24,"g":"D","x":-4.1,"y":4},{"t":24,"g":"D","x":-3.7,"y":6},{"t":24,"g":"D","x":-5.5,"y":2},{"t":24,"g":"D","x":-4.3,"y":2},
{"t":24,"g":"D","x":-3.5,"y":3},{"t":24,"g":"D","x":-3.4,"y":8},{"t":24,"g":"D","x":-3.2,"y":2},{"t":24,"g":"D","x":-3.1,"y":11},{"t":24,"g":"D","x":-2.9,"y":5},{"t":24,"g":"D","x":-2.8,"y":14},{"t":24,"g":"D","x":-2.7,"y":3},{"t":24,"g":"D","x":-2.6,"y":9},{"t":24,"g":"D","x":-2.5,"y":6},{"t":24,"g":"D","x":-2.4,"y":13},{"t":24,"g":"D","x":-2.3,"y":3},{"t":24,"g":"D","x":-2.2,"y":10},{"t":24,"g":"D","x":-2.1,"y":7},{"t":24,"g":"D","x":-2.0,"y":15},{"t":24,"g":"D","x":-1.9,"y":4},{"t":24,"g":"D","x":-1.8,"y":11},{"t":24,"g":"D","x":-1.7,"y":6},{"t":24,"g":"D","x":-1.6,"y":13},{"t":24,"g":"D","x":-1.5,"y":3},{"t":24,"g":"D","x":-1.4,"y":9},{"t":24,"g":"D","x":-1.3,"y":5},{"t":24,"g":"D","x":-1.2,"y":12},{"t":24,"g":"D","x":-1.1,"y":4},{"t":24,"g":"D","x":-1.0,"y":8},{"t":24,"g":"D","x":-0.9,"y":3},{"t":24,"g":"D","x":-3.0,"y":1},{"t":24,"g":"D","x":-2.4,"y":1},{"t":24,"g":"D","x":-1.8,"y":1},{"t":24,"g":"D","x":-1.3,"y":1},{"t":24,"g":"D","x":-2.0,"y":1},
{"t":24,"g":"D","x":4.18,"y":76},{"t":24,"g":"D","x":5.28,"y":64},{"t":24,"g":"D","x":2.54,"y":56},{"t":24,"g":"D","x":4.34,"y":47},{"t":24,"g":"D","x":2.99,"y":46},{"t":24,"g":"D","x":2.31,"y":34},{"t":24,"g":"D","x":2.65,"y":36},{"t":24,"g":"D","x":1.98,"y":25},{"t":24,"g":"D","x":2.7,"y":17},{"t":24,"g":"D","x":6.58,"y":20},{"t":24,"g":"D","x":7.26,"y":4.5},{"t":24,"g":"D","x":6.58,"y":4.5},{"t":24,"g":"D","x":6.1,"y":6},{"t":24,"g":"D","x":5.9,"y":3},{"t":24,"g":"D","x":5.45,"y":3},{"t":24,"g":"D","x":5.0,"y":3},{"t":24,"g":"D","x":4.55,"y":5},{"t":24,"g":"D","x":4.1,"y":6},{"t":24,"g":"D","x":3.65,"y":3},{"t":24,"g":"D","x":3.2,"y":6},{"t":24,"g":"D","x":3.0,"y":4},{"t":24,"g":"D","x":6.3,"y":5.5},{"t":24,"g":"D","x":3.8,"y":2},{"t":24,"g":"D","x":4.8,"y":2},
{"t":24,"g":"D","x":0.97,"y":2},{"t":24,"g":"D","x":1.0,"y":7},{"t":24,"g":"D","x":1.05,"y":12},{"t":24,"g":"D","x":1.1,"y":4},{"t":24,"g":"D","x":1.15,"y":16},{"t":24,"g":"D","x":1.2,"y":9},{"t":24,"g":"D","x":1.3,"y":3},{"t":24,"g":"D","x":1.35,"y":13},{"t":24,"g":"D","x":1.4,"y":6},{"t":24,"g":"D","x":1.5,"y":10},{"t":24,"g":"D","x":1.55,"y":2},{"t":24,"g":"D","x":1.6,"y":15},{"t":24,"g":"D","x":1.7,"y":7},{"t":24,"g":"D","x":1.75,"y":4},{"t":24,"g":"D","x":1.8,"y":12},{"t":24,"g":"D","x":1.9,"y":8},{"t":24,"g":"D","x":2.0,"y":3},{"t":24,"g":"D","x":2.1,"y":11},{"t":24,"g":"D","x":2.2,"y":6},{"t":24,"g":"D","x":2.3,"y":2},{"t":24,"g":"D","x":2.4,"y":9},{"t":24,"g":"D","x":2.5,"y":4},{"t":24,"g":"D","x":2.6,"y":7},{"t":24,"g":"D","x":2.75,"y":3},{"t":24,"g":"D","x":1.0,"y":1},{"t":24,"g":"D","x":1.45,"y":1},{"t":24,"g":"D","x":1.9,"y":1},{"t":24,"g":"D","x":2.35,"y":1},

{"t":24,"g":"H","x":-6.03,"y":2.5},{"t":24,"g":"H","x":-5.54,"y":1.5},{"t":24,"g":"H","x":-4.07,"y":3.5},{"t":24,"g":"H","x":-3.6,"y":1.5},{"t":24,"g":"H","x":-3.43,"y":3.5},{"t":24,"g":"H","x":-2.42,"y":3.5},{"t":24,"g":"H","x":-1.63,"y":4.5},{"t":24,"g":"H","x":-1.5,"y":2},{"t":24,"g":"H","x":-1.36,"y":3.5},
{"t":24,"g":"H","x":1.05,"y":2},{"t":24,"g":"H","x":1.4,"y":1},{"t":24,"g":"H","x":1.6,"y":2},{"t":24,"g":"H","x":1.8,"y":2.5},{"t":24,"g":"H","x":2.05,"y":3},{"t":24,"g":"H","x":2.3,"y":4.5},{"t":24,"g":"H","x":2.45,"y":5},{"t":24,"g":"H","x":2.6,"y":2},{"t":24,"g":"H","x":2.85,"y":2},{"t":24,"g":"H","x":3.15,"y":2},{"t":24,"g":"H","x":3.5,"y":2.5},{"t":24,"g":"H","x":3.75,"y":1},{"t":24,"g":"H","x":4.3,"y":2},{"t":24,"g":"H","x":4.5,"y":2},{"t":24,"g":"H","x":4.75,"y":41},{"t":24,"g":"H","x":4.8,"y":2},{"t":24,"g":"H","x":5.1,"y":3},{"t":24,"g":"H","x":5.35,"y":2},{"t":24,"g":"H","x":5.7,"y":2},{"t":24,"g":"H","x":5.9,"y":2},{"t":24,"g":"H","x":6.3,"y":2.5},{"t":24,"g":"H","x":6.8,"y":8},{"t":24,"g":"H","x":7.0,"y":2},{"t":24,"g":"H","x":8.05,"y":2.5}
]},
"facet":{
 "row":{"field":"t","type":"ordinal","sort":[4,12,24],"title":null,
  "header":{"labelExpr":"datum.value + 'h induction'","labelFont":"Liberation Serif","labelFontSize":22,"labelFontWeight":"bold","labelColor":"#000","labelAngle":-90,"labelPadding":32}},
 "column":{"field":"g","type":"nominal","sort":["C","A","D","H"],"title":null,
  "header":{"labelExpr":"{'C':'Control','A':'AR KO','D':'Daxx KO','H':'HIRA KO'}[datum.value]","labelFont":"Liberation Serif","labelFontSize":26,"labelFontWeight":"bold","labelColor":"#000","labelPadding":13}}
},
"spacing":{"row":105,"column":9},
"bounds":"flush",
"resolve":{"axis":{"x":"independent","y":"independent"}},
"spec":{
 "width":308,"height":166,
 "layer":[
  {"transform":[{"filter":"isValid(datum.x)"}],
   "mark":{"type":"circle","size":22,"opacity":1},
   "encoding":{
    "x":{"field":"x","type":"quantitative","scale":{"domain":[-10.6,10.5],"nice":false,"zero":false},
     "axis":{"title":"log2(FC)","values":[-10,0,10],"grid":true,"gridColor":{"condition":{"test":"datum.value===0","value":"#8c8c8c"},"value":"#ececec"},"gridWidth":1,"domainColor":"#9a9a9a","domainWidth":1.5,"ticks":false,"tickSize":0,"labelFont":"Open Sans","labelFontSize":9,"labelColor":"#777","labelPadding":4,"titleFont":"Open Sans","titleFontSize":15,"titleFontWeight":"normal","titleColor":"#666","titleAnchor":"start","titleAlign":"left","titleBaseline":"alphabetic","titleX":27,"titleY":16}},
    "y":{"field":"y","type":"quantitative","scale":{"domain":[0,224],"nice":false},
     "axis":{"title":"-log10(P-value)","values":[50,100,150,200],"grid":true,"gridColor":"#ececec","domain":false,"ticks":false,"tickSize":0,"labelAlign":"left","labelBaseline":"alphabetic","labelPadding":-10,"labelFont":"Liberation Serif","labelFontWeight":"bold","labelFontSize":13,"labelColor":"#222","titleFont":"Open Sans","titleFontSize":12,"titleFontWeight":"normal","titleColor":"#666","titleX":-2,"titleY":92,"titleBaseline":"middle","titleAlign":"center","titleAngle":-90}},
    "color":{"condition":{"test":"datum.x < 0","value":"#168c16"},"value":"#ff1010"}
   }},
  {"transform":[{"filter":"isValid(datum.dn)"}],
   "mark":{"type":"text","font":"Liberation Serif","fontSize":22,"fontWeight":"bold","color":"#000","baseline":"middle","align":"center"},
   "encoding":{"x":{"datum":-2.9},"y":{"datum":209},"text":{"field":"dn"}}},
  {"transform":[{"filter":"isValid(datum.dn)"}],
   "mark":{"type":"text","font":"Liberation Serif","fontSize":22,"fontWeight":"bold","color":"#000","baseline":"middle","align":"center"},
   "encoding":{"x":{"datum":3.0},"y":{"datum":209},"text":{"field":"up"}}}
 ]
},
"config":{"view":{"stroke":null}}
}
